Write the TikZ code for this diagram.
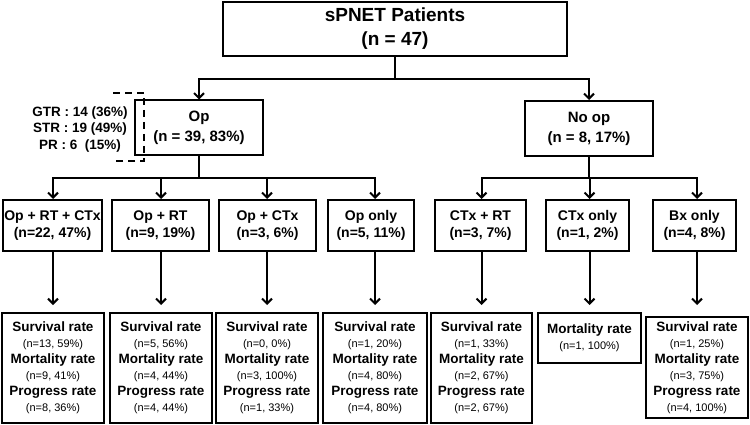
\documentclass[tikz,border=0pt]{standalone}
\usepackage{fontspec}
\setmainfont{Liberation Sans}
\usetikzlibrary{arrows.meta}
\newcommand{\smtxt}[1]{{\fontsize{11}{16}\selectfont\mdseries #1}}
\begin{document}
\begin{tikzpicture}[x=1pt,y=-1pt,
 box/.style={draw, line width=2pt, rectangle, inner sep=0pt, align=center},
 conn/.style={line width=2pt},
 arr/.style={line width=2pt, -{Straight Barb[length=5pt,width=10pt]}},
 lvtwo/.style={box, minimum width=128pt, minimum height=55pt, font=\bfseries\fontsize{15}{20}\selectfont},
 lvthree/.style={box, minimum height=51pt, font=\bfseries\fontsize{14}{17}\selectfont},
 lvfour/.style={box, minimum height=110pt, font=\bfseries\fontsize{13.5}{16}\selectfont},
]
\useasboundingbox[fill=white] (0,0) rectangle (750,425);

% top
\node[box, minimum width=344pt, minimum height=54pt, font=\bfseries\fontsize{19}{24}\selectfont] (top) at (395,29) {sPNET Patients\\(n = 47)};

% level 2
\node[lvtwo] (op) at (199,128) {Op\\(n = 39, 83\%)};
\node[lvtwo] (noop) at (589,128.5) {No op\\(n = 8, 17\%)};

% resection note
\node[font=\bfseries\fontsize{13.5}{16.5}\selectfont, align=center, inner sep=0pt] (res) at (80,129.5) {GTR : 14 (36\%)\\STR : 19 (49\%)\\PR : 6\ \ (15\%)};
\draw[line width=1.6pt, dash pattern=on 7pt off 5pt] (113,93) -- (144,93) -- (144,161) -- (113,161);

% level 3
\node[lvthree, minimum width=99pt] (a1) at (52.5,225.5) {Op + RT + CTx\\(n=22, 47\%)};
\node[lvthree, minimum width=97pt] (a2) at (160.5,225.5) {Op + RT\\(n=9, 19\%)};
\node[lvthree, minimum width=97pt] (a3) at (267.5,225.5) {Op + CTx\\(n=3, 6\%)};
\node[lvthree, minimum width=86pt] (a4) at (371,225.5) {Op only\\(n=5, 11\%)};
\node[lvthree, minimum width=91pt] (a5) at (480.5,225.5) {CTx + RT\\(n=3, 7\%)};
\node[lvthree, minimum width=83pt] (a6) at (587.5,225.5) {CTx only\\(n=1, 2\%)};
\node[lvthree, minimum width=83pt] (a7) at (694.5,225.5) {Bx only\\(n=4, 8\%)};

% level 4
\node[lvfour, minimum width=102pt] (b1) at (53,368) {Survival rate\\\smtxt{(n=13, 59\%)}\\Mortality rate\\\smtxt{(n=9, 41\%)}\\Progress rate\\\smtxt{(n=8, 36\%)}};
\node[lvfour, minimum width=102pt] (b2) at (161,368) {Survival rate\\\smtxt{(n=5, 56\%)}\\Mortality rate\\\smtxt{(n=4, 44\%)}\\Progress rate\\\smtxt{(n=4, 44\%)}};
\node[lvfour, minimum width=102pt] (b3) at (267,368) {Survival rate\\\smtxt{(n=0, 0\%)}\\Mortality rate\\\smtxt{(n=3, 100\%)}\\Progress rate\\\smtxt{(n=1, 33\%)}};
\node[lvfour, minimum width=104pt] (b4) at (375,368) {Survival rate\\\smtxt{(n=1, 20\%)}\\Mortality rate\\\smtxt{(n=4, 80\%)}\\Progress rate\\\smtxt{(n=4, 80\%)}};
\node[lvfour, minimum width=101pt] (b5) at (481.5,368) {Survival rate\\\smtxt{(n=1, 33\%)}\\Mortality rate\\\smtxt{(n=2, 67\%)}\\Progress rate\\\smtxt{(n=2, 67\%)}};
\node[lvfour, minimum width=103pt, minimum height=50pt] (b6) at (589.5,338) {Mortality rate\\\smtxt{(n=1, 100\%)}};
\node[lvfour, minimum width=102pt, minimum height=101pt] (b7) at (697,367.5) {Survival rate\\\smtxt{(n=1, 25\%)}\\Mortality rate\\\smtxt{(n=3, 75\%)}\\Progress rate\\\smtxt{(n=4, 100\%)}};

% connectors top
\coordinate (tj) at (395,79);
\draw[conn] (top.south) -- (tj);
\draw[arr] (tj) -| (op.north);
\draw[arr] (tj) -| (noop.north);

% connectors op
\coordinate (oj) at (199,178);
\draw[conn] (op.south) -- (oj);
\foreach \i in {1,2,3,4}{
  \draw[arr] (oj) -| (b\i.north |- a\i.north);
}
\coordinate (nj) at (589,178);
\draw[conn] (noop.south) -- (nj);
\foreach \i in {5,6,7}{
  \draw[arr] (nj) -| (b\i.north |- a\i.north);
}

% level 3 -> level 4
\foreach \i in {1,...,7}{
  \draw[arr] (b\i.north |- a\i.south) -- (b\i.north |- 0,305);
}
\end{tikzpicture}
\end{document}
